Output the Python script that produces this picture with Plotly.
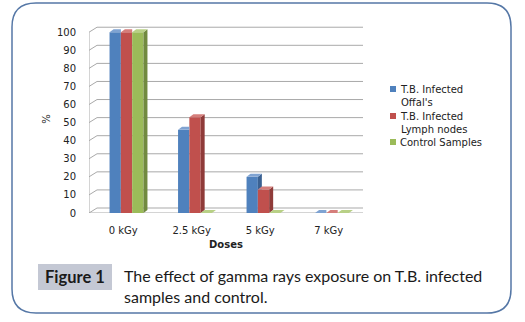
import plotly.graph_objects as go

# ---- data ----
doses = ["0 kGy", "2.5 kGy", "5 kGy", "7 kGy"]
series_names = ["T.B. Infected<br>Offal's", "T.B. Infected<br>Lymph nodes", "Control Samples"]
offals = [100, 46, 20, 0]
lymph = [100, 53, 13, 0]
control = [100, 0, 0, 0]
y_ticks = [0, 10, 20, 30, 40, 50, 60, 70, 80, 90, 100]

series_values = [offals, lymph, control]
front_colors = ["#4f81bd", "#c0504d", "#9bbb59"]
side_colors = ["#3a6192", "#8f3b39", "#718a3f"]
top_colors = ["#7fa3d2", "#d57e7b", "#b8d086"]

W, H = 525, 322
ML, MR, MT, MB = 89, 162, 25, 109
YMAX = 104
pw = W - ML - MR
ph = H - MT - MB
xr = [-0.5, 3.5]
pxu = pw / (xr[1] - xr[0])
pyu = ph / YMAX


def px(x):
    return (x - ML) / pw


def py(y):
    return (H - MB - y) / ph


fig = go.Figure()
bw = 0.165
off0 = -0.2
xs = list(range(len(doses)))
for i, (name, vals) in enumerate(zip(series_names, series_values)):
    fig.add_trace(go.Bar(
        x=xs, y=vals, name=name.replace("<br>", " "), offset=off0 + i * bw, width=bw,
        marker=dict(color=front_colors[i], line=dict(width=0)), showlegend=False,
    ))

shapes = []
# walls / grid (3D look)
dxw, dyw = 8 / pxu, 5 / pyu
gcol = "#a9a9a9"
for v in y_ticks:
    shapes.append(dict(type="line", xref="x", yref="y", x0=xr[0] + dxw, x1=xr[1] + dxw,
                       y0=v + dyw, y1=v + dyw, line=dict(color=gcol, width=1), layer="below"))
    shapes.append(dict(type="line", xref="x", yref="y", x0=xr[0], x1=xr[0] + dxw,
                       y0=v, y1=v + dyw, line=dict(color=gcol, width=1), layer="below"))
shapes.append(dict(type="line", xref="x", yref="y", x0=xr[0], x1=xr[0], y0=0, y1=100,
                   line=dict(color=gcol, width=1), layer="below"))
shapes.append(dict(type="line", xref="x", yref="y", x0=xr[0], x1=xr[1], y0=0, y1=0,
                   line=dict(color=gcol, width=1), layer="below"))
shapes.append(dict(type="line", xref="x", yref="y", x0=xr[1], x1=xr[1] + dxw, y0=0, y1=dyw,
                   line=dict(color=gcol, width=1), layer="below"))

# bar side and top faces (hidden parts behind the next bar are skipped)
ddx, ddy = 4 / pxu, 3 / pyu
nser = len(series_values)
for i, vals in enumerate(series_values):
    for k, v in enumerate(vals):
        l = xs[k] + off0 + i * bw
        r = l + bw
        nxt = series_values[i + 1][k] if i + 1 < nser else 0
        if v > nxt or i + 1 == nser:
            lo0 = nxt if i + 1 < nser else 0
            lo1 = max(ddy, nxt) if i + 1 < nser else ddy
            shapes.append(dict(type="path", xref="x", yref="y",
                               path=f"M{r},{lo0} L{r + ddx},{lo1} L{r + ddx},{v + ddy} L{r},{v} Z",
                               fillcolor=side_colors[i], line=dict(width=0), layer="above"))
            shapes.append(dict(type="path", xref="x", yref="y",
                               path=f"M{l},{v} L{r},{v} L{r + ddx},{v + ddy} L{l + ddx},{v + ddy} Z",
                               fillcolor=top_colors[i], line=dict(width=0), layer="above"))
        else:
            shapes.append(dict(type="path", xref="x", yref="y",
                               path=f"M{l},{v} L{r},{v} L{r},{v + ddy} L{l + ddx},{v + ddy} Z",
                               fillcolor=top_colors[i], line=dict(width=0), layer="above"))

# manual legend (small squares like the original)
leg_x, leg_y = 390, [89, 116, 142]
annotations = []
for i, name in enumerate(series_names):
    shapes.append(dict(type="rect", xref="paper", yref="paper", x0=px(leg_x), x1=px(leg_x + 6),
                       y0=py(leg_y[i] + 3), y1=py(leg_y[i] - 3), fillcolor=front_colors[i],
                       line=dict(width=0)))
    annotations.append(dict(xref="paper", yref="paper", x=px(leg_x + 8), y=py(leg_y[i] - 7),
                            text=name, showarrow=False, xanchor="left", yanchor="top",
                            align="left", font=dict(family="DejaVu Sans", size=10, color="#222222")))

# outer rounded border
x0, x1, y0, y1, rad = 12, 511, 3, 313, 24
rx, ry = rad / pw, rad / ph
X0, X1, Y0, Y1 = px(x0), px(x1), py(y1), py(y0)
path = (f"M{X0 + rx},{Y1} L{X1 - rx},{Y1} Q{X1},{Y1} {X1},{Y1 - ry} "
        f"L{X1},{Y0 + ry} Q{X1},{Y0} {X1 - rx},{Y0} L{X0 + rx},{Y0} "
        f"Q{X0},{Y0} {X0},{Y0 + ry} L{X0},{Y1 - ry} Q{X0},{Y1} {X0 + rx},{Y1} Z")
shapes.append(dict(type="path", xref="paper", yref="paper", path=path,
                   line=dict(color="#5577a6", width=1.5), layer="below"))
# Figure label box
shapes.append(dict(type="rect", xref="paper", yref="paper", x0=px(38), x1=px(112),
                   y0=py(290), y1=py(264), fillcolor="#c4c8d4", line=dict(width=0), layer="below"))

annotations += [
    dict(xref="paper", yref="paper", x=px(75), y=py(277), text="<b>Figure 1</b>",
         showarrow=False, xanchor="center", yanchor="middle",
         font=dict(family="Lato", size=16.5, color="#1a1a1a")),
    dict(xref="paper", yref="paper", x=px(122), y=py(264),
         text="The effect of gamma rays exposure on T.B. infected<br>samples and control.",
         showarrow=False, xanchor="left", yanchor="top", align="left",
         font=dict(family="Lato", size=16, color="#1a1a1a")),
]

fig.update_layout(
    width=W, height=H, margin=dict(l=ML, r=MR, t=MT, b=MB),
    paper_bgcolor="white", plot_bgcolor="white",
    barmode="overlay", showlegend=False,
    font=dict(family="DejaVu Sans", size=10, color="#222222"),
    xaxis=dict(range=xr, tickvals=xs, ticktext=doses, showgrid=False, zeroline=False,
               showline=False, ticks="outside", ticklen=8, tickcolor="rgba(0,0,0,0)",
               title=dict(text="<b>Doses</b>", font=dict(size=10), standoff=5),
               tickfont=dict(size=10)),
    yaxis=dict(range=[0, YMAX], tickvals=y_ticks, showgrid=False, zeroline=False,
               showline=False, ticks="outside", ticklen=10, tickcolor="rgba(0,0,0,0)",
               title=dict(text="%", font=dict(size=10), standoff=4),
               tickfont=dict(size=10)),
    shapes=shapes, annotations=annotations,
)

fig.write_html("out.html")
